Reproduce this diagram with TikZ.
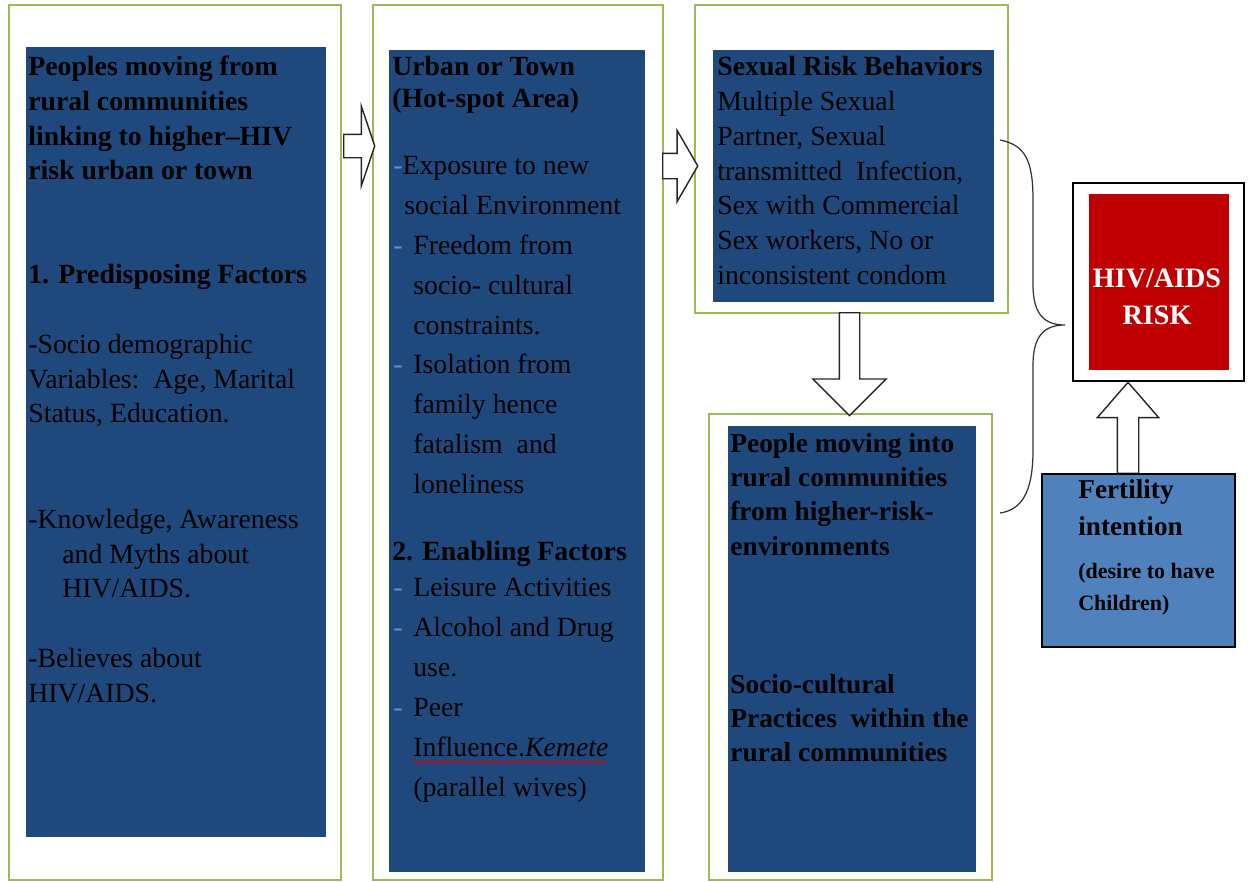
\documentclass[tikz,border=0pt]{standalone}
\usepackage{fontspec}
\setmainfont{Liberation Serif}
\usepackage{xcolor}
\usepackage{tikz}
\usetikzlibrary{shapes.arrows, decorations.pathmorphing}
\definecolor{framegreen}{RGB}{155, 187, 89}
\definecolor{boxblue}{RGB}{31, 73, 125}
\definecolor{riskred}{RGB}{192, 0, 0}
\definecolor{fertblue}{RGB}{79, 129, 189}
\definecolor{dashblue}{RGB}{95, 145, 210}
\newcommand{\dsh}{\textcolor{dashblue}{-}}

\begin{document}
\begin{tikzpicture}[
    frame/.style={draw=framegreen, line width=1pt, fill=white, inner sep=0pt},
    panel/.style={fill=boxblue, inner sep=0pt},
    txt/.style={anchor=north west, inner sep=0pt, align=left, font=\fontsize{15.8}{19.6}\selectfont},
    head/.style={txt, font=\fontsize{15.8}{19.7}\selectfont\bfseries},
    blockarrow/.style={draw=black!85, line width=0.8pt, fill=white, single arrow, anchor=tail, inner sep=#1}
]
    \useasboundingbox (0,0) rectangle (25,-17.64);

    % Column 1: rural to town
    \node[frame, minimum width=6.64cm, minimum height=17.5cm] (frameA) at (3.50,-8.85) {};
    \node[panel, minimum width=6.0cm, minimum height=15.8cm] (panelA) at (3.52,-8.84) {};
    \node[head] (origin) at (0.56,-1.12) {Peoples moving from\\rural communities\\linking to higher--HIV\\risk urban or town};
    \node[head] (predisp) at (0.56,-5.28) {1. Predisposing Factors};
    \node[txt] (sociodem) at (0.56,-6.68) {-Socio demographic\\Variables:\ \ Age, Marital\\Status, Education.};
    \node[txt] (knowledge) at (0.56,-10.18) {-Knowledge, Awareness\\\hspace*{0.68cm}and Myths about\\\hspace*{0.68cm}HIV/AIDS.};
    \node[txt] (believes) at (0.56,-12.96) {-Believes about\\HIV/AIDS.};

    % Column 2: hot-spot area
    \node[frame, minimum width=5.8cm, minimum height=17.5cm] (frameB) at (10.36,-8.85) {};
    \node[panel, minimum width=5.12cm, minimum height=16.44cm] (panelB) at (10.34,-9.22) {};
    \node[head, font=\fontsize{15.8}{18.1}\selectfont\bfseries] (urban) at (7.84,-1.12) {Urban or Town\\(Hot-spot Area)};
    \node[txt, font=\fontsize{15.8}{22.7}\selectfont] (exposure) at (7.86,-3.12) {\dsh Exposure to new\\\hspace*{0.22cm}social Environment\\\makebox[0.4cm][l]{\dsh}Freedom from\\\hspace*{0.4cm}socio- cultural\\\hspace*{0.4cm}constraints.\\\makebox[0.4cm][l]{\dsh}Isolation from\\\hspace*{0.4cm}family hence\\\hspace*{0.4cm}fatalism\ \ and\\\hspace*{0.4cm}loneliness};
    \node[head] (enabling) at (7.84,-10.82) {2. Enabling Factors};
    \node[txt, font=\fontsize{15.8}{22.7}\selectfont] (leisure) at (7.86,-11.56) {\makebox[0.4cm][l]{\dsh}Leisure Activities\\\makebox[0.4cm][l]{\dsh}Alcohol and Drug\\\hspace*{0.4cm}use.\\\makebox[0.4cm][l]{\dsh}Peer\\\hspace*{0.4cm}Influence.\textit{Kemete}\\\hspace*{0.4cm}(parallel wives)};
    \draw[red!85!black, line width=0.5pt, decorate, decoration={snake, amplitude=0.7pt, segment length=3pt}] (8.26,-15.24) -- (12.14,-15.24);

    % Column 3: behaviours and return
    \node[frame, minimum width=6.26cm, minimum height=6.16cm] (frameC) at (17.03,-3.18) {};
    \node[panel, minimum width=5.62cm, minimum height=5.04cm] (panelC) at (17.07,-3.52) {};
    \node[txt, font=\fontsize{15.8}{19.8}\selectfont] (sexual) at (14.34,-1.12) {\textbf{Sexual Risk Behaviors}\\Multiple Sexual\\Partner, Sexual\\transmitted\ \ Infection,\\Sex with Commercial\\Sex workers, No or\\inconsistent condom};

    \node[frame, minimum width=5.66cm, minimum height=9.32cm] (frameD) at (17.01,-12.94) {};
    \node[panel, minimum width=4.96cm, minimum height=8.92cm] (panelD) at (17.04,-12.98) {};
    \node[head, font=\fontsize{15.6}{19.5}\selectfont\bfseries] (returning) at (14.6,-8.66) {People moving into\\rural communities\\from higher-risk-\\environments};
    \node[head, font=\fontsize{15.6}{19.5}\selectfont\bfseries] (practices) at (14.6,-13.48) {Socio-cultural\\Practices\ \ within the\\rural communities};

    % Outcome
    \node[draw=black, line width=1pt, fill=white, minimum width=3.42cm, minimum height=3.96cm] (riskframe) at (23.17,-5.64) {};
    \node[fill=riskred, inner sep=0pt, minimum width=2.8cm, minimum height=3.52cm] (risk) at (23.18,-5.64) {};
    \node[text=white, align=center, inner sep=0pt, font=\fontsize{16}{21}\selectfont\bfseries] (risklabel) at (23.14,-5.94) {HIV/AIDS\\RISK};

    % Arrows
    \node[blockarrow=0.22cm, minimum height=0.62cm, single arrow head extend=0.56cm, single arrow tip angle=143] (arrA) at (6.86,-2.92) {};
    \node[blockarrow=0.24cm, minimum height=0.70cm, single arrow head extend=0.46cm, single arrow tip angle=120] (arrB) at (13.24,-3.32) {};
    \node[blockarrow=0.19cm, minimum height=2.06cm, single arrow head extend=0.53cm, single arrow tip angle=90, rotate=-90] (arrC) at (16.99,-6.24) {};
    \node[blockarrow=0.20cm, minimum height=1.82cm, single arrow head extend=0.40cm, single arrow tip angle=82, rotate=90] (arrD) at (22.56,-9.48) {};

    \node[draw=black, line width=0.8pt, fill=fertblue, minimum width=3.86cm, minimum height=3.46cm] (fert) at (22.77,-11.21) {};
    \node[head, font=\fontsize{15.5}{21}\selectfont\bfseries] (fertlabel) at (21.56,-9.58) {Fertility\\intention};
    \node[head, font=\fontsize{12.5}{18}\selectfont\bfseries] (desire) at (21.56,-11.26) {(desire to have\\Children)};

    % Brace
    \draw[black!80, line width=0.7pt] (20,-2.8) .. controls (20.5,-2.9) and (20.66,-3.2) .. (20.66,-4.0) -- (20.66,-5.7) .. controls (20.66,-6.3) and (20.9,-6.5) .. (21.3,-6.5) .. controls (20.9,-6.5) and (20.66,-6.7) .. (20.66,-7.3) -- (20.66,-9.0) .. controls (20.66,-9.9) and (20.4,-10.2) .. (20,-10.26);
\end{tikzpicture}
\end{document}
